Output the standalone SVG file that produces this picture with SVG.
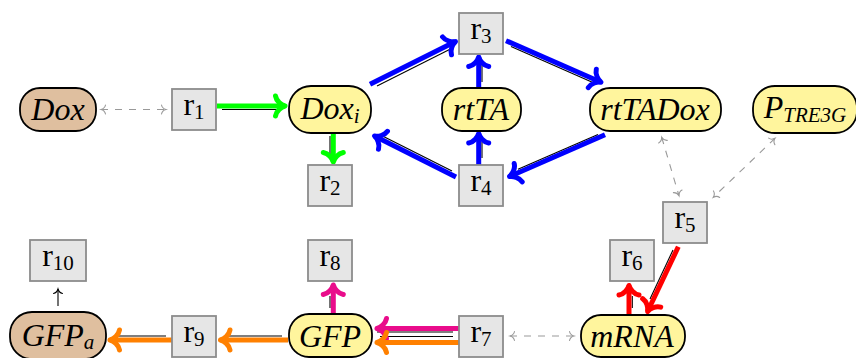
<svg xmlns="http://www.w3.org/2000/svg" width="856" height="358" viewBox="0 0 856 358">
<style>
.pill{stroke:#000;stroke-width:1.8}
.yel{fill:#FFF59D}
.tan{fill:#DFBF9F}
.box{fill:#E6E6E6;stroke:#8C8C8C;stroke-width:1.8}
.t{font-family:"Liberation Serif","Times New Roman",serif;font-size:32px;fill:#000;text-anchor:middle}
.it{font-style:italic}
.sub{font-size:21px}
.thk{fill:none;stroke-width:5;stroke-linecap:butt}
.thin{fill:none;stroke:#000;stroke-width:1.1}
.dash{fill:none;stroke:#999;stroke-width:1.1;stroke-dasharray:7 7}
.g{stroke:#00FF00}.b{stroke:#0000FF}.r{stroke:#FF0000}.m{stroke:#E90C8B}.o{stroke:#FF8000}
</style>
<defs>
<marker id="aG" markerUnits="userSpaceOnUse" orient="auto" viewBox="-12 -12 24 24" markerWidth="24" markerHeight="24" refX="0" refY="0" overflow="visible"><path d="M-9.5,-10 C-8.6,-4.7 -3.6,-1 0,0 C-3.6,1 -8.6,4.7 -9.5,10" fill="none" stroke="#00FF00" stroke-width="5" stroke-linecap="round" stroke-linejoin="round"/></marker>
<marker id="aB" markerUnits="userSpaceOnUse" orient="auto" viewBox="-12 -12 24 24" markerWidth="24" markerHeight="24" refX="0" refY="0" overflow="visible"><path d="M-9.5,-10 C-8.6,-4.7 -3.6,-1 0,0 C-3.6,1 -8.6,4.7 -9.5,10" fill="none" stroke="#0000FF" stroke-width="5" stroke-linecap="round" stroke-linejoin="round"/></marker>
<marker id="aR" markerUnits="userSpaceOnUse" orient="auto" viewBox="-12 -12 24 24" markerWidth="24" markerHeight="24" refX="0" refY="0" overflow="visible"><path d="M-9.5,-10 C-8.6,-4.7 -3.6,-1 0,0 C-3.6,1 -8.6,4.7 -9.5,10" fill="none" stroke="#FF0000" stroke-width="5" stroke-linecap="round" stroke-linejoin="round"/></marker>
<marker id="aM" markerUnits="userSpaceOnUse" orient="auto" viewBox="-12 -12 24 24" markerWidth="24" markerHeight="24" refX="0" refY="0" overflow="visible"><path d="M-9.5,-10 C-8.6,-4.7 -3.6,-1 0,0 C-3.6,1 -8.6,4.7 -9.5,10" fill="none" stroke="#E90C8B" stroke-width="5" stroke-linecap="round" stroke-linejoin="round"/></marker>
<marker id="aO" markerUnits="userSpaceOnUse" orient="auto" viewBox="-12 -12 24 24" markerWidth="24" markerHeight="24" refX="0" refY="0" overflow="visible"><path d="M-9.5,-10 C-8.6,-4.7 -3.6,-1 0,0 C-3.6,1 -8.6,4.7 -9.5,10" fill="none" stroke="#FF8000" stroke-width="5" stroke-linecap="round" stroke-linejoin="round"/></marker>
<marker id="aS" markerUnits="userSpaceOnUse" orient="auto-start-reverse" viewBox="-8 -8 16 16" markerWidth="16" markerHeight="16" refX="0" refY="0" overflow="visible"><path d="M-4.5,-4.5 C-4,-2 -1.8,-0.5 0,0 C-1.8,0.5 -4,2 -4.5,4.5" fill="none" stroke="#999" stroke-width="1.1" stroke-linecap="round"/></marker>
<marker id="aK" markerUnits="userSpaceOnUse" orient="auto" viewBox="-8 -8 16 16" markerWidth="16" markerHeight="16" refX="0" refY="0" overflow="visible"><path d="M-4.5,-4.5 C-4,-2 -1.8,-0.5 0,0 C-1.8,0.5 -4,2 -4.5,4.5" fill="none" stroke="#000" stroke-width="1.1" stroke-linecap="round"/></marker>
</defs>

<g id="connectors">
  <line class="dash" x1="101" y1="109.5" x2="166" y2="109.5" marker-start="url(#aS)" marker-end="url(#aS)"/>
  <line class="dash" x1="661.7" y1="137.3" x2="679" y2="195.7" marker-start="url(#aS)" marker-end="url(#aS)"/>
  <line class="dash" x1="775" y1="138.3" x2="713.3" y2="197.3" marker-start="url(#aS)" marker-end="url(#aS)"/>
  <line class="dash" x1="510" y1="336" x2="574" y2="336" marker-start="url(#aS)" marker-end="url(#aS)"/>
  <line class="thin" x1="222" y1="109.5" x2="278" y2="109.5"/>
  <line class="thk g" x1="217" y1="106" x2="285" y2="106" marker-end="url(#aG)"/>
  <line class="thin" x1="330" y1="136" x2="330" y2="155"/>
  <line class="thk g" x1="333.3" y1="133.5" x2="333.3" y2="162" marker-end="url(#aG)"/>
  <line class="thin" x1="377" y1="85.9" x2="450" y2="49.2"/>
  <line class="thk b" x1="370" y1="84.3" x2="455.5" y2="41.6" marker-end="url(#aB)"/>
  <line class="thin" x1="511" y1="46.6" x2="594" y2="82.9"/>
  <line class="thk b" x1="506" y1="40.7" x2="601" y2="82.2" marker-end="url(#aB)"/>
  <line class="thin" x1="482" y1="82" x2="482" y2="65"/>
  <line class="thk b" x1="478.7" y1="88" x2="478.7" y2="57" marker-end="url(#aB)"/>
  <line class="thin" x1="598" y1="134.4" x2="518" y2="169.3"/>
  <line class="thk b" x1="605" y1="134.8" x2="509.5" y2="176.5" marker-end="url(#aB)"/>
  <line class="thin" x1="452" y1="170.9" x2="383" y2="136.2"/>
  <line class="thk b" x1="456" y1="177" x2="374.5" y2="136" marker-end="url(#aB)"/>
  <line class="thin" x1="482" y1="158" x2="482" y2="142"/>
  <line class="thk b" x1="478.7" y1="165" x2="478.7" y2="133.5" marker-end="url(#aB)"/>
  <line class="thin" x1="673" y1="250" x2="650" y2="299"/>
  <line class="thk r" x1="678.3" y1="246.7" x2="647.6" y2="311.5" marker-end="url(#aR)"/>
  <line class="thin" x1="632.3" y1="308" x2="632.3" y2="296"/>
  <line class="thk r" x1="629" y1="315" x2="629" y2="285.5" marker-end="url(#aR)"/>
  <line class="thin" x1="453" y1="332" x2="377" y2="332"/>
  <line class="thin" x1="453" y1="336.5" x2="380" y2="336.5"/>
  <line class="thk m" x1="459" y1="328.5" x2="377" y2="328.5" marker-end="url(#aM)"/>
  <line class="thk o" x1="459" y1="342.5" x2="377" y2="342.5" marker-end="url(#aO)"/>
  <line class="thin" x1="330" y1="308" x2="330" y2="296"/>
  <line class="thk m" x1="333.3" y1="314" x2="333.3" y2="285" marker-end="url(#aM)"/>
  <line class="thin" x1="282" y1="336" x2="227" y2="336"/>
  <line class="thk o" x1="288" y1="340" x2="220.5" y2="340" marker-end="url(#aO)"/>
  <line class="thin" x1="166" y1="336" x2="115" y2="336"/>
  <line class="thk o" x1="172" y1="340" x2="110" y2="340" marker-end="url(#aO)"/>
  <line class="thin" x1="58" y1="306" x2="58" y2="289" marker-end="url(#aK)"/>
</g>

<g id="Dox"><rect class="pill tan" x="20" y="88" width="76" height="43" rx="20"/><text class="t it" x="58" y="119.5">Dox</text></g>
<g id="r1"><rect class="box" x="172" y="89" width="44" height="41"/><text class="t" x="194" y="115">r<tspan class="sub" dy="4">1</tspan></text></g>
<g id="Dox_i"><rect class="pill yel" x="289" y="86" width="82" height="47" rx="22"/><text class="t it" x="330" y="118.5">Dox<tspan class="sub" dy="4">i</tspan></text></g>
<g id="r2"><rect class="box" x="308" y="165" width="44" height="41"/><text class="t" x="330" y="191">r<tspan class="sub" dy="4">2</tspan></text></g>
<g id="r3"><rect class="box" x="459" y="13" width="44" height="41"/><text class="t" x="481" y="39">r<tspan class="sub" dy="4">3</tspan></text></g>
<g id="rtTA"><rect class="pill yel" x="442" y="88" width="79" height="43" rx="20"/><text class="t it" x="481" y="119.5">rtTA</text></g>
<g id="rtTADox"><rect class="pill yel" x="590" y="88" width="131" height="43" rx="20"/><text class="t it" x="655" y="119.5">rtTADox</text></g>
<g id="P_TRE3G"><rect class="pill yel" x="753" y="86" width="104" height="47" rx="22"/><text class="t it" x="805" y="117.5">P<tspan class="sub" dy="4.5">TRE3G</tspan></text></g>
<g id="r4"><rect class="box" x="459" y="165" width="44" height="41"/><text class="t" x="481" y="191">r<tspan class="sub" dy="4">4</tspan></text></g>
<g id="r5"><rect class="box" x="663" y="202" width="44" height="41"/><text class="t" x="685" y="228">r<tspan class="sub" dy="4">5</tspan></text></g>
<g id="r6"><rect class="box" x="610" y="240" width="44" height="41"/><text class="t" x="632" y="266">r<tspan class="sub" dy="4">6</tspan></text></g>
<g id="r7"><rect class="box" x="459" y="316" width="44" height="41"/><text class="t" x="481" y="342">r<tspan class="sub" dy="4">7</tspan></text></g>
<g id="mRNA"><rect class="pill yel" x="581" y="315" width="104" height="42" rx="20"/><text class="t it" x="632" y="346.5">mRNA</text></g>
<g id="GFP"><rect class="pill yel" x="289" y="314" width="83" height="43" rx="20"/><text class="t it" x="330" y="346.5">GFP</text></g>
<g id="r8"><rect class="box" x="308" y="240" width="44" height="41"/><text class="t" x="330" y="266">r<tspan class="sub" dy="4">8</tspan></text></g>
<g id="r9"><rect class="box" x="172" y="316" width="44" height="41"/><text class="t" x="194" y="342">r<tspan class="sub" dy="4">9</tspan></text></g>
<g id="GFP_a"><rect class="pill tan" x="10" y="312" width="96" height="47" rx="22"/><text class="t it" x="58" y="345.5">GFP<tspan class="sub" dy="3.5">a</tspan></text></g>
<g id="r10"><rect class="box" x="30" y="240" width="56" height="41"/><text class="t" x="58" y="266">r<tspan class="sub" dy="4">10</tspan></text></g>
</svg>
